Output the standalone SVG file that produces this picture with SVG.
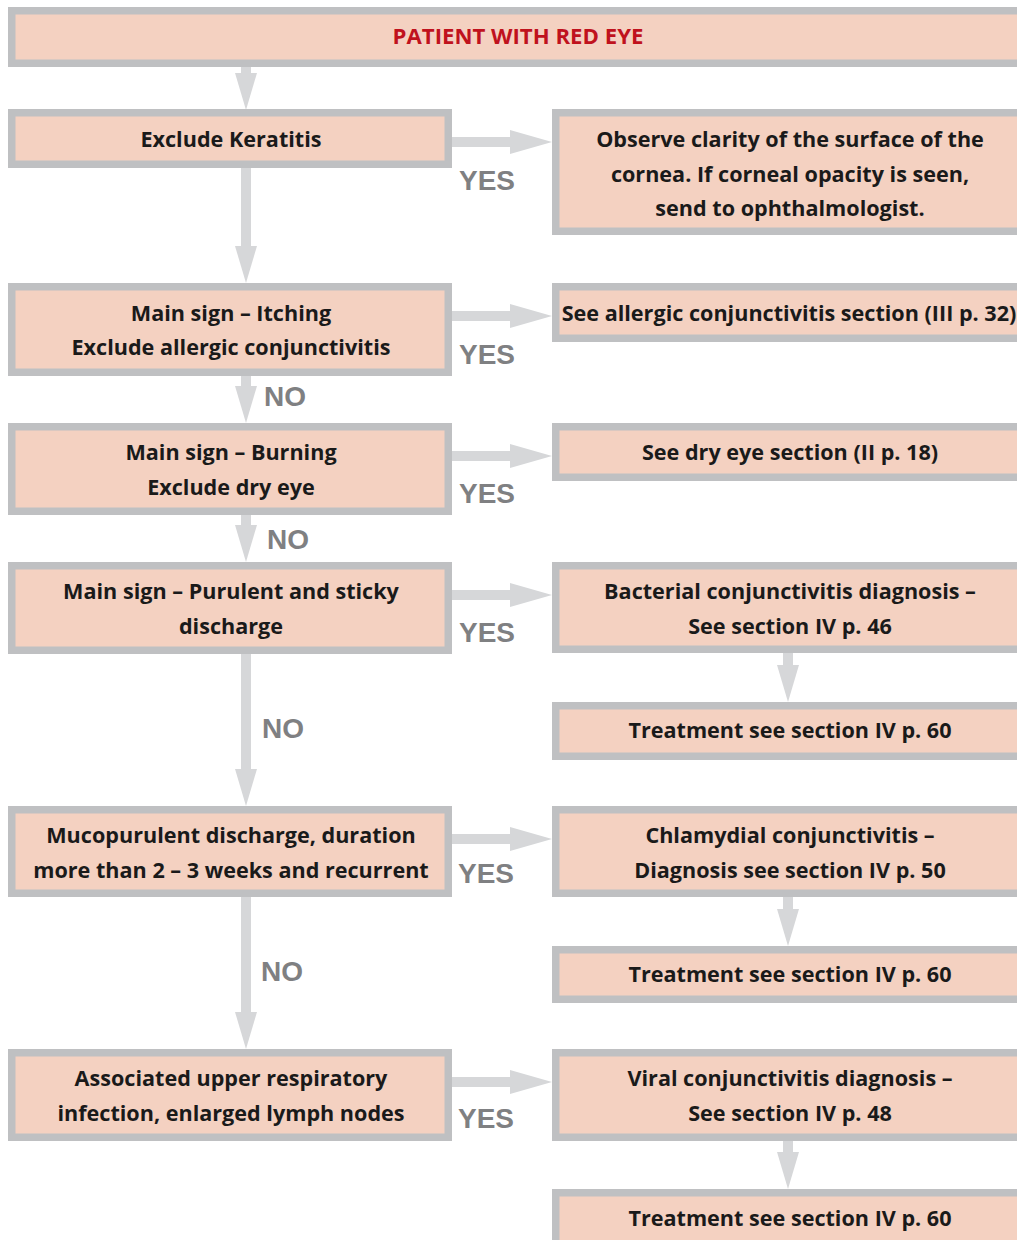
<svg xmlns="http://www.w3.org/2000/svg" width="1017" height="1240" viewBox="0 0 1017 1240">
<style>
.box{fill:#f4d1c1;stroke:#bfc0c2;stroke-width:7.5}
.t{font-family:"Open Sans","Liberation Sans",sans-serif;font-weight:bold;font-size:21.6px;fill:#1a1a1a;text-anchor:middle}
.title{font-family:"Open Sans","Liberation Sans",sans-serif;font-weight:bold;font-size:22.2px;fill:#c0121d;text-anchor:middle}
.lbl{font-family:"Liberation Sans",Arial,sans-serif;font-weight:bold;font-size:28px;fill:#7f8082}
.sh{stroke:#d6d7d9;stroke-width:10;fill:none}
.hd{fill:#d6d7d9}
</style>
<rect width="1017" height="1240" fill="#ffffff"/>
<g id="connectors">
  <path class="sh" d="M246,67V74"/><path class="hd" d="M235,73H257L246,110Z"/>
  <path class="sh" d="M246,168V247"/><path class="hd" d="M235,246H257L246,283Z"/>
  <path class="sh" d="M246,375V387"/><path class="hd" d="M235,386H257L246,423Z"/>
  <path class="sh" d="M246,515V526"/><path class="hd" d="M235,525H257L246,562Z"/>
  <path class="sh" d="M246,654V770"/><path class="hd" d="M235,769H257L246,806Z"/>
  <path class="sh" d="M246,897V1013"/><path class="hd" d="M235,1012H257L246,1049Z"/>
  <path class="sh" d="M788,653V666"/><path class="hd" d="M777,665H799L788,702Z"/>
  <path class="sh" d="M788,897V910"/><path class="hd" d="M777,909H799L788,946Z"/>
  <path class="sh" d="M788,1141V1153"/><path class="hd" d="M777,1152H799L788,1189Z"/>
  <path class="sh" d="M452,142H511"/><path class="hd" d="M510,130V154L552,142Z"/>
  <path class="sh" d="M452,316H511"/><path class="hd" d="M510,304V328L552,316Z"/>
  <path class="sh" d="M452,456H511"/><path class="hd" d="M510,444V468L552,456Z"/>
  <path class="sh" d="M452,595H511"/><path class="hd" d="M510,583V607L552,595Z"/>
  <path class="sh" d="M452,839H511"/><path class="hd" d="M510,827V851L552,839Z"/>
  <path class="sh" d="M452,1082H511"/><path class="hd" d="M510,1070V1094L552,1082Z"/>
  <text class="lbl" x="459" y="190">YES</text>
  <text class="lbl" x="459" y="364">YES</text>
  <text class="lbl" x="459" y="503">YES</text>
  <text class="lbl" x="459" y="642">YES</text>
  <text class="lbl" x="458" y="883">YES</text>
  <text class="lbl" x="458" y="1128">YES</text>
  <text class="lbl" x="264" y="406">NO</text>
  <text class="lbl" x="267" y="549">NO</text>
  <text class="lbl" x="262" y="738">NO</text>
  <text class="lbl" x="261" y="981">NO</text>
</g>
<g id="n-start"><rect class="box" x="11.75" y="10.75" width="1030" height="52.5"/><text class="title" x="518" y="44">PATIENT WITH RED EYE</text></g>
<g id="n-keratitis"><rect class="box" x="11.75" y="112.75" width="436.5" height="51.5"/><text class="t" x="231" y="147">Exclude Keratitis</text></g>
<g id="n-observe"><rect class="box" x="555.75" y="112.75" width="480" height="118.5"/><text class="t" x="790" y="147">Observe clarity of the surface of the</text><text class="t" x="790" y="182">cornea. If corneal opacity is seen,</text><text class="t" x="790" y="216">send to ophthalmologist.</text></g>
<g id="n-itching"><rect class="box" x="11.75" y="286.75" width="436.5" height="85.5"/><text class="t" x="231" y="321">Main sign – Itching</text><text class="t" x="231" y="355">Exclude allergic conjunctivitis</text></g>
<g id="n-allergic"><rect class="box" x="555.75" y="286.75" width="480" height="51.5"/><text class="t" x="789" y="321">See allergic conjunctivitis section (III p. 32)</text></g>
<g id="n-burning"><rect class="box" x="11.75" y="426.75" width="436.5" height="84.5"/><text class="t" x="231" y="460">Main sign – Burning</text><text class="t" x="231" y="495">Exclude dry eye</text></g>
<g id="n-dry"><rect class="box" x="555.75" y="426.75" width="480" height="50.5"/><text class="t" x="790" y="460">See dry eye section (II p. 18)</text></g>
<g id="n-purulent"><rect class="box" x="11.75" y="565.75" width="436.5" height="84.5"/><text class="t" x="231" y="599">Main sign – Purulent and sticky</text><text class="t" x="231" y="634">discharge</text></g>
<g id="n-bacterial"><rect class="box" x="555.75" y="565.75" width="480" height="83.5"/><text class="t" x="790" y="599">Bacterial conjunctivitis diagnosis –</text><text class="t" x="790" y="634">See section IV p. 46</text></g>
<g id="n-treat1"><rect class="box" x="555.75" y="705.75" width="480" height="50.5"/><text class="t" x="790" y="738">Treatment see section IV p. 60</text></g>
<g id="n-mucopurulent"><rect class="box" x="11.75" y="809.75" width="436.5" height="83.5"/><text class="t" x="231" y="843">Mucopurulent discharge, duration</text><text class="t" x="231" y="878">more than 2 – 3 weeks and recurrent</text></g>
<g id="n-chlamydial"><rect class="box" x="555.75" y="809.75" width="480" height="83.5"/><text class="t" x="790" y="843">Chlamydial conjunctivitis –</text><text class="t" x="790" y="878">Diagnosis see section IV p. 50</text></g>
<g id="n-treat2"><rect class="box" x="555.75" y="949.75" width="480" height="49.5"/><text class="t" x="790" y="982">Treatment see section IV p. 60</text></g>
<g id="n-associated"><rect class="box" x="11.75" y="1052.75" width="436.5" height="84.5"/><text class="t" x="231" y="1086">Associated upper respiratory</text><text class="t" x="231" y="1121">infection, enlarged lymph nodes</text></g>
<g id="n-viral"><rect class="box" x="555.75" y="1052.75" width="480" height="84.5"/><text class="t" x="790" y="1086">Viral conjunctivitis diagnosis –</text><text class="t" x="790" y="1121">See section IV p. 48</text></g>
<g id="n-treat3"><rect class="box" x="555.75" y="1192.75" width="480" height="80"/><text class="t" x="790" y="1226">Treatment see section IV p. 60</text></g>
</svg>
